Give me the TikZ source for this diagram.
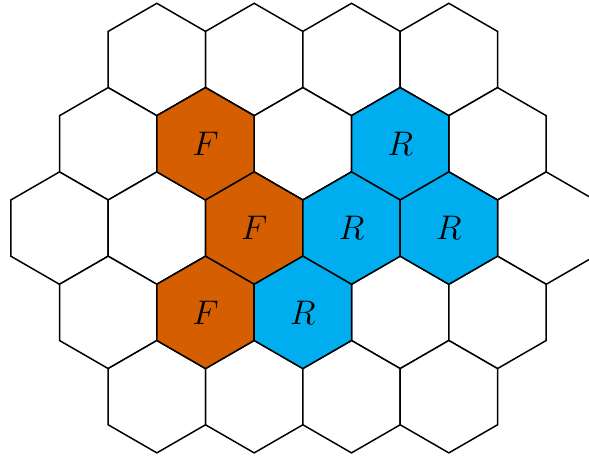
\documentclass[tikz,border=0pt]{standalone}
\usepackage{amsmath,amssymb}
\usepackage{tikz}
\usetikzlibrary{positioning,calc}
\definecolor{hexF}{RGB}{213,94,0}
\definecolor{hexR}{RGB}{0,174,239}
\newcommand{\hexcell}[2]{%
  \filldraw[fill=#1, draw=black, line width=0.75pt, shift={#2}]
    (30:1) -- (90:1) -- (150:1) -- (210:1) -- (270:1) -- (330:1) -- cycle;
}
\tikzset{celllabel/.style={font=\fontsize{17.5}{20}\selectfont, inner sep=0pt}}

\begin{document}
\begin{tikzpicture}
        \clip (-1.059,-4.109) rectangle (9.422,4.059);
        % empty board
        \foreach \y/\off/\n in {3/1/3, 1.5/0.5/4, 0/0/5, -1.5/0.5/4, -3/1/3}
          \foreach \k in {0,...,\n}
            \hexcell{white}{({(\k+\off)*sqrt(3)},\y)};
        % F cells
        \hexcell{hexF}{(2.598,1.5)}
        \hexcell{hexF}{(3.464,0)}
        \hexcell{hexF}{(2.598,-1.5)}
        % R cells
        \hexcell{hexR}{(6.062,1.5)}
        \hexcell{hexR}{(5.196,0)}
        \hexcell{hexR}{(6.928,0)}
        \hexcell{hexR}{(4.330,-1.5)}
        \node[celllabel] (f1) at (2.598,1.5) {$F$};
        \node[celllabel] (f2) at (3.464,0) {$F$};
        \node[celllabel] (f3) at (2.598,-1.5) {$F$};
        \node[celllabel] (r1) at (6.062,1.5) {$R$};
        \node[celllabel] (r2) at (5.196,0) {$R$};
        \node[celllabel] (r3) at (6.928,0) {$R$};
        \node[celllabel] (r4) at (4.330,-1.5) {$R$};
      \end{tikzpicture}
\end{document}
